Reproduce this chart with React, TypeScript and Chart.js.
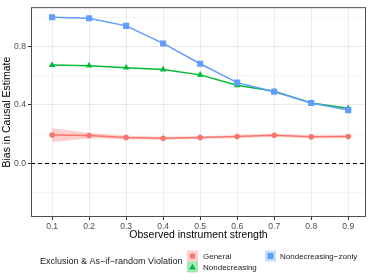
import React, { useEffect, useRef } from 'react';
import { Chart, registerables } from 'chart.js';

Chart.register(...registerables);

const strength = [0.1, 0.2, 0.3, 0.4, 0.5, 0.6, 0.7, 0.8, 0.9];
const general = [0.194, 0.19, 0.176, 0.172, 0.176, 0.183, 0.192, 0.181, 0.183];
const generalUpper = [0.24, 0.208, 0.188, 0.182, 0.186, 0.193, 0.202, 0.191, 0.193];
const generalLower = [0.146, 0.172, 0.164, 0.162, 0.166, 0.173, 0.182, 0.171, 0.173];
const nondecreasing = [0.672, 0.668, 0.654, 0.641, 0.605, 0.534, 0.493, 0.413, 0.377];
const nondecreasingZonly = [0.999, 0.992, 0.94, 0.82, 0.681, 0.552, 0.489, 0.413, 0.364];
const xTicks = [0.1, 0.2, 0.3, 0.4, 0.5, 0.6, 0.7, 0.8, 0.9];
const yTicks = [-0.2, 0, 0.2, 0.4, 0.6, 0.8, 1.0];
const yLabelled = [0, 0.4, 0.8];
const seriesNames = ['General', 'Nondecreasing', 'Nondecreasing\u2212zonly'];
const seriesColors = ['#F8766D', '#00BA38', '#619CFF'];
const seriesShapes = ['circle', 'triangle', 'rect'];
const legendTitle = 'Exclusion & As\u2212if\u2212random Violation';
const xTitle = 'Observed instrument strength';
const yTitle = 'Bias in Causal Estimate';

const FONT = '"Liberation Sans", Arial, sans-serif';

const isMajorY = (v: number) => yLabelled.some((l) => Math.abs(l - v) < 1e-9);
const pts = (ys: number[]) => strength.map((x, i) => ({ x, y: ys[i] }));

const decor = {
  id: 'decor',
  afterDatasetsDraw(chart: any) {
    const { ctx, chartArea: a, scales } = chart;
    const y0 = Math.round(scales.y.getPixelForValue(0)) + 0.5;
    ctx.save();
    ctx.strokeStyle = '#000';
    ctx.lineWidth = 1;
    ctx.setLineDash([4, 3]);
    ctx.beginPath();
    ctx.moveTo(a.left, y0);
    ctx.lineTo(a.right, y0);
    ctx.stroke();
    ctx.setLineDash([]);
    ctx.strokeStyle = '#4d4d4d';
    ctx.strokeRect(a.left + 0.5, a.top + 0.5, a.right - a.left - 1, a.bottom - a.top - 1);
    ctx.restore();
  },
  afterDraw(chart: any) {
    const { ctx } = chart;
    ctx.save();
    ctx.font = `9px ${FONT}`;
    ctx.fillStyle = '#1a1a1a';
    ctx.textBaseline = 'middle';
    ctx.textAlign = 'left';
    ctx.fillText(legendTitle, 40, 262);
    const pos = [
      [187, 250.5, 203],
      [187, 261.5, 203],
      [265, 250.5, 280],
    ];
    seriesNames.forEach((name, i) => {
      const [bx, by, tx] = pos[i];
      const s = 11;
      ctx.globalAlpha = 0.35;
      ctx.fillStyle = seriesColors[i];
      ctx.fillRect(bx, by, s, s);
      ctx.globalAlpha = 1;
      const cx = bx + s / 2;
      const cy = by + s / 2;
      ctx.fillStyle = seriesColors[i];
      ctx.beginPath();
      if (seriesShapes[i] === 'circle') {
        ctx.arc(cx, cy, 2.8, 0, Math.PI * 2);
      } else if (seriesShapes[i] === 'triangle') {
        ctx.moveTo(cx, cy - 3.2);
        ctx.lineTo(cx + 3.4, cy + 2.6);
        ctx.lineTo(cx - 3.4, cy + 2.6);
        ctx.closePath();
      } else {
        ctx.rect(cx - 3, cy - 3, 6, 6);
      }
      ctx.fill();
      ctx.font = `8px ${FONT}`;
      ctx.fillStyle = '#1a1a1a';
      ctx.fillText(name, tx, by + s / 2 + 0.5);
    });
    ctx.restore();
  },
};

export default function App() {
  const ref = useRef<HTMLCanvasElement | null>(null);
  useEffect(() => {
    if (!ref.current) return;
    const chart = new Chart(ref.current, {
      type: 'line',
      data: {
        datasets: [
          {
            label: seriesNames[2],
            data: pts(nondecreasingZonly),
            borderColor: seriesColors[2],
            backgroundColor: seriesColors[2],
            borderWidth: 1.5,
            pointStyle: 'rect',
            pointRadius: 4.3,
            pointBorderWidth: 0,
            fill: false,
          },
          {
            label: seriesNames[1],
            data: pts(nondecreasing),
            borderColor: seriesColors[1],
            backgroundColor: seriesColors[1],
            borderWidth: 1.5,
            pointStyle: 'triangle',
            pointRadius: 3.8,
            pointBorderWidth: 0,
            fill: false,
          },
          {
            label: seriesNames[0],
            data: pts(general),
            borderColor: seriesColors[0],
            backgroundColor: seriesColors[0],
            borderWidth: 1.5,
            pointStyle: 'circle',
            pointRadius: 2.8,
            pointBorderWidth: 0,
            fill: false,
          },
          {
            label: 'upper',
            data: pts(generalUpper),
            borderWidth: 0,
            borderColor: 'rgba(0,0,0,0)',
            pointRadius: 0,
            backgroundColor: 'rgba(248,118,109,0.35)',
            fill: '+1',
          },
          {
            label: 'lower',
            data: pts(generalLower),
            borderWidth: 0,
            borderColor: 'rgba(0,0,0,0)',
            pointRadius: 0,
            fill: false,
          },
        ],
      },
      options: {
        animation: false,
        responsive: true,
        maintainAspectRatio: false,
        devicePixelRatio: 1,
        layout: { padding: { top: 3, right: 8, bottom: 36, left: 0 } },
        plugins: { legend: { display: false }, tooltip: { enabled: false } },
        scales: {
          x: {
            type: 'linear',
            min: 0.043,
            max: 0.948,
            afterBuildTicks: (s: any) => {
              s.ticks = xTicks.map((v) => ({ value: v }));
            },
            afterFit: (s: any) => {
              s.height = 27;
            },
            ticks: {
              callback: (v: any) => Number(v).toFixed(1),
              font: { size: 8.6, family: FONT },
              color: '#4d4d4d',
              padding: 1,
              maxRotation: 0,
              autoSkip: false,
            },
            grid: { color: 'rgba(0,0,0,0.08)', tickLength: 3, tickColor: '#333' },
            border: { display: false },
            title: {
              display: true,
              text: xTitle,
              color: '#000',
              font: { size: 10.5, family: FONT },
              padding: { top: 0, bottom: 3 },
            },
          },
          y: {
            type: 'linear',
            min: -0.367,
            max: 1.068,
            afterBuildTicks: (s: any) => {
              s.ticks = yTicks.map((v) => ({ value: v }));
            },
            afterFit: (s: any) => {
              s.width = 31;
            },
            ticks: {
              callback: (v: any) => (isMajorY(Number(v)) ? Number(v).toFixed(1) : ''),
              font: { size: 8.6, family: FONT },
              color: '#4d4d4d',
              padding: 2,
              autoSkip: false,
            },
            grid: {
              color: (c: any) => (c.tick && isMajorY(c.tick.value) ? 'rgba(0,0,0,0.08)' : 'rgba(0,0,0,0.04)'),
              tickLength: 3,
              tickColor: (c: any) => (c.tick && isMajorY(c.tick.value) ? '#333' : 'rgba(0,0,0,0)'),
            },
            border: { display: false },
            title: {
              display: true,
              text: yTitle,
              color: '#000',
              font: { size: 10.5, family: FONT },
              padding: { top: 1, bottom: 0 },
            },
          },
        },
      },
      plugins: [decor],
    } as any);
    return () => chart.destroy();
  }, []);
  return (
    <div style={{ position: 'absolute', left: 0, top: 0, width: 374, height: 280 }}>
      <canvas ref={ref} />
    </div>
  );
}
